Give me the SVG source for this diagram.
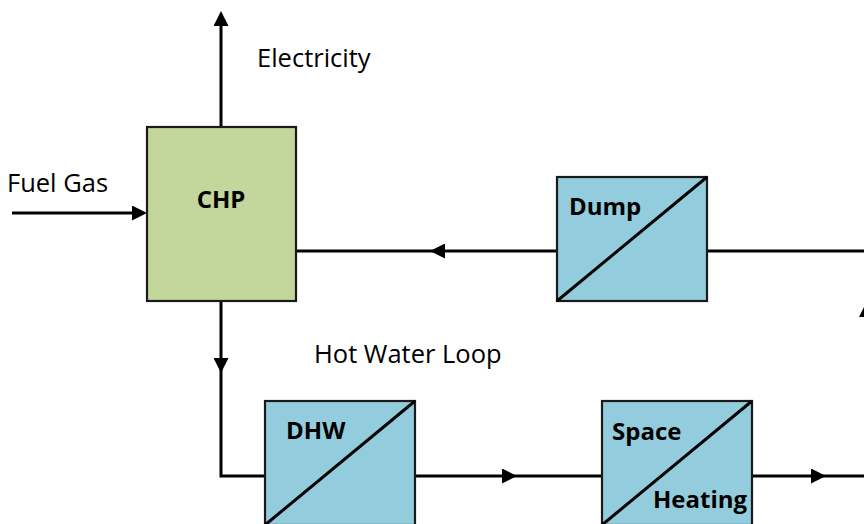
<svg xmlns="http://www.w3.org/2000/svg" width="864" height="524" viewBox="0 0 864 524">
  <defs>
    <style>
      .bg { fill: #ffffff; }
      .box { stroke: #1a1a1a; stroke-width: 2.2; }
      .chp { fill: #c3d69b; }
      .hx { fill: #93cddd; }
      .diag { stroke: #000000; stroke-width: 3; fill: none; }
      .conn { stroke: #000000; stroke-width: 3; fill: none; }
      .arr { marker-end: url(#ah); }
      .lbl { font-family: "Open Sans", "Noto Sans", "Liberation Sans", sans-serif; font-size: 25.5px; fill: #000000; }
      .blbl { font-family: "Open Sans", "Noto Sans", "Liberation Sans", sans-serif; font-size: 24px; font-weight: bold; fill: #000000; }
    </style>
    <marker id="ah" viewBox="0 0 15 15" refX="11" refY="7.5" markerWidth="15" markerHeight="15" markerUnits="userSpaceOnUse" orient="auto">
      <path d="M0,0 L15,7.5 L0,15 z" fill="#000000"/>
    </marker>
  </defs>
  <rect class="bg" x="0" y="0" width="864" height="524"/>

  <g id="connectors">
    <path class="conn arr" d="M221,127 V15"/>
    <path class="conn arr" d="M12,213 H143"/>
    <path class="conn arr" d="M557,251 H434"/>
    <path class="conn" d="M434,251 H296"/>
    <path class="conn" d="M707,251 H866.5"/>
    <path class="conn arr" d="M221,301 V369"/>
    <path class="conn" d="M221,369 V476 H265"/>
    <path class="conn arr" d="M415,476 H513"/>
    <path class="conn" d="M513,476 H602"/>
    <path class="conn arr" d="M752,476 H822"/>
    <path class="conn" d="M822,476 H866.5"/>
    <path class="conn arr" d="M866.5,476 V306"/>
    <path class="conn" d="M866.5,306 V251"/>
  </g>

  <g id="chp">
    <rect class="box chp" x="147" y="127" width="149" height="174"/>
    <text class="blbl" x="221" y="208" text-anchor="middle">CHP</text>
  </g>

  <g id="dump">
    <rect class="box hx" x="557" y="177" width="150" height="124"/>
    <line class="diag" x1="557" y1="301" x2="707" y2="177"/>
    <text class="blbl" x="569" y="215">Dump</text>
  </g>

  <g id="dhw">
    <rect class="box hx" x="265" y="401" width="150" height="124"/>
    <line class="diag" x1="265" y1="525" x2="415" y2="401"/>
    <text class="blbl" x="286" y="439">DHW</text>
  </g>

  <g id="space-heating">
    <rect class="box hx" x="602" y="401" width="150" height="124"/>
    <line class="diag" x1="602" y1="525" x2="752" y2="401"/>
    <text class="blbl" x="612" y="440">Space</text>
    <text class="blbl" x="653" y="508">Heating</text>
  </g>

  <g id="labels">
    <text class="lbl" x="257" y="67">Electricity</text>
    <text class="lbl" x="7" y="192">Fuel Gas</text>
    <text class="lbl" x="314" y="363">Hot Water Loop</text>
  </g>
</svg>
